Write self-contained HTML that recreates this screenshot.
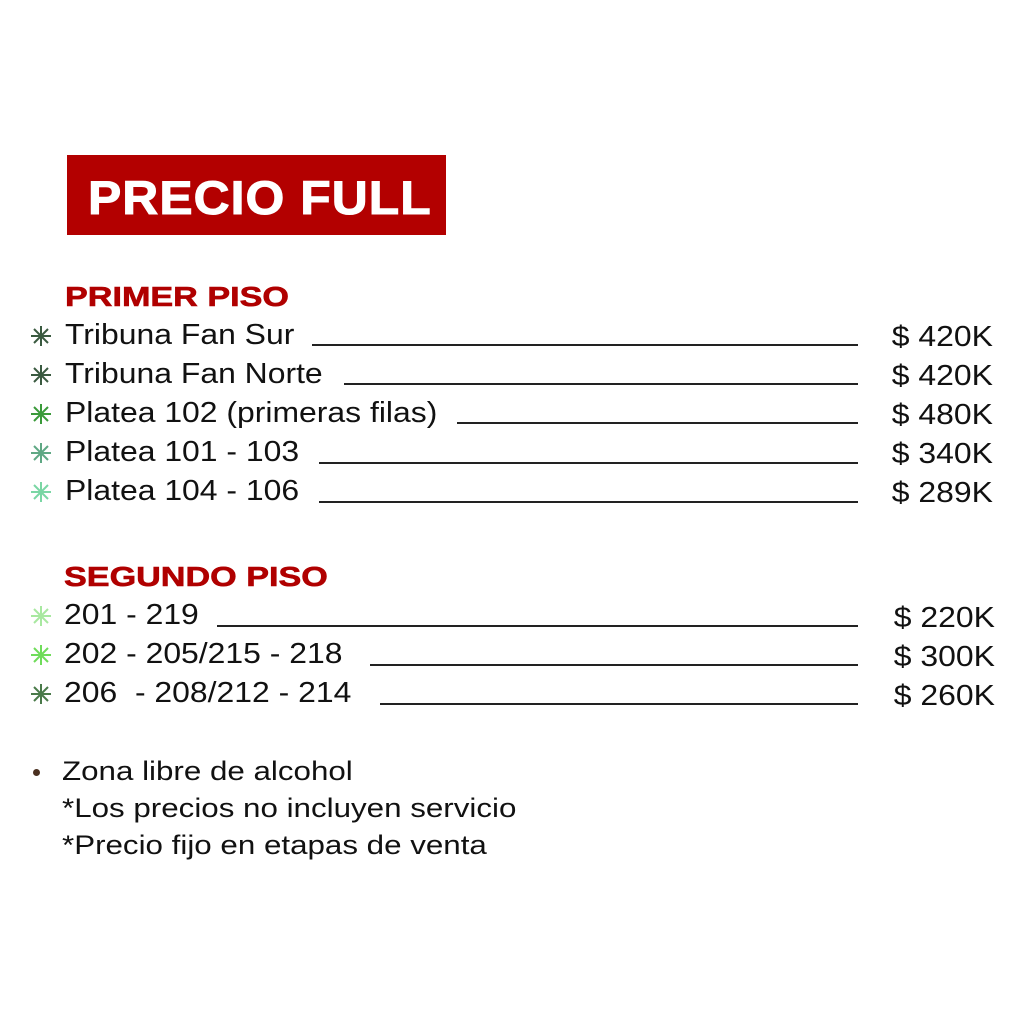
<!DOCTYPE html><html><head><style>
body{margin:0;width:1024px;height:1024px;background:#fff;position:relative;font-family:"Liberation Sans",sans-serif;overflow:hidden}
.a{position:absolute;white-space:nowrap;line-height:1;transform-origin:left}
.t{font-size:29px;color:#111;transform:scaleX(1.1)}
.h{font-size:28px;font-weight:bold;color:#b00000;transform:scaleX(1.22);-webkit-text-stroke:0.6px #b00000}
.l{position:absolute;height:2px;background:#222}
.p{position:absolute;font-size:29px;color:#111;right:31px;line-height:1;transform:scaleX(1.1);transform-origin:right}
.n{font-size:27px;color:#111;transform:scaleX(1.16)}
svg{position:absolute}
</style></head><body>
<div style="position:absolute;left:67px;top:155px;width:379px;height:80px;background:#b30000"></div>
<div class="a" style="left:88px;top:174px;font-size:47px;font-weight:900;color:#fff;letter-spacing:1px;transform:scaleX(1.06);-webkit-text-stroke:1px #fff">PRECIO FULL</div>
<div class="a h" style="left:65px;top:283px">PRIMER PISO</div>
<div class="a h" style="left:64px;top:563px">SEGUNDO PISO</div>

<svg width="0" height="0"><defs><g id="s"><path d="M0,-10V10M-10,0H10M-7,-7L7,7M-7,7L7,-7" stroke-width="2"/></g></defs></svg>
<svg style="left:30px;top:325px" width="22" height="22" viewBox="-11 -11 22 22"><use href="#s" stroke="#3a5a40"/></svg>
<svg style="left:30px;top:364px" width="22" height="22" viewBox="-11 -11 22 22"><use href="#s" stroke="#3a5a40"/></svg>
<svg style="left:30px;top:403px" width="22" height="22" viewBox="-11 -11 22 22"><use href="#s" stroke="#3a9a3a"/></svg>
<svg style="left:30px;top:442px" width="22" height="22" viewBox="-11 -11 22 22"><use href="#s" stroke="#5fa884"/></svg>
<svg style="left:30px;top:481px" width="22" height="22" viewBox="-11 -11 22 22"><use href="#s" stroke="#7ad6a4"/></svg>
<svg style="left:30px;top:605px" width="22" height="22" viewBox="-11 -11 22 22"><use href="#s" stroke="#a8e8a0"/></svg>
<svg style="left:30px;top:644px" width="22" height="22" viewBox="-11 -11 22 22"><use href="#s" stroke="#6fdc5a"/></svg>
<svg style="left:30px;top:683px" width="22" height="22" viewBox="-11 -11 22 22"><use href="#s" stroke="#4a7a4a"/></svg>

<div class="a t" style="left:65px;top:321px">Tribuna Fan Sur</div>
<div class="a t" style="left:65px;top:360px">Tribuna Fan Norte</div>
<div class="a t" style="left:65px;top:399px">Platea 102 (primeras filas)</div>
<div class="a t" style="left:65px;top:438px">Platea 101 - 103</div>
<div class="a t" style="left:65px;top:477px">Platea 104 - 106</div>
<div class="a t" style="left:64px;top:601px">201 - 219</div>
<div class="a t" style="left:64px;top:640px">202 - 205/215 - 218</div>
<div class="a t" style="left:64px;top:679px">206 &nbsp;- 208/212 - 214</div>

<div class="l" style="left:312px;width:546px;top:344px"></div>
<div class="l" style="left:344px;width:514px;top:383px"></div>
<div class="l" style="left:457px;width:401px;top:422px"></div>
<div class="l" style="left:319px;width:539px;top:462px"></div>
<div class="l" style="left:319px;width:539px;top:501px"></div>
<div class="l" style="left:217px;width:641px;top:625px"></div>
<div class="l" style="left:370px;width:488px;top:664px"></div>
<div class="l" style="left:380px;width:478px;top:703px"></div>

<div class="p" style="top:323px">$ 420K</div>
<div class="p" style="top:362px">$ 420K</div>
<div class="p" style="top:401px">$ 480K</div>
<div class="p" style="top:440px">$ 340K</div>
<div class="p" style="top:479px">$ 289K</div>
<div class="p" style="top:604px;right:29px">$ 220K</div>
<div class="p" style="top:643px;right:29px">$ 300K</div>
<div class="p" style="top:682px;right:29px">$ 260K</div>

<div style="position:absolute;left:33px;top:769px;width:7px;height:7px;border-radius:50%;background:#4a3020"></div>
<div class="a n" style="left:62px;top:758px">Zona libre de alcohol</div>
<div class="a n" style="left:62px;top:795px">*Los precios no incluyen servicio</div>
<div class="a n" style="left:62px;top:832px">*Precio fijo en etapas de venta</div>
</body></html>
